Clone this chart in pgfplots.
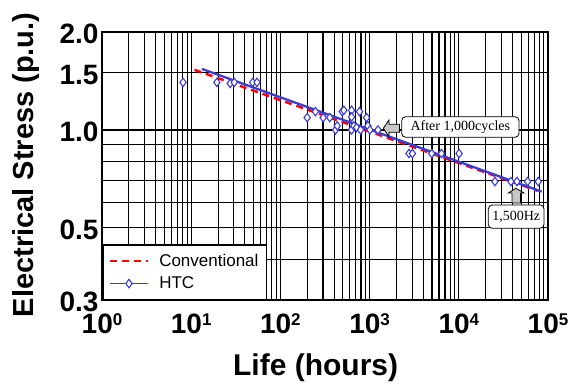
\documentclass[border=0pt]{standalone}
\usepackage{pgfplots}
\pgfplotsset{compat=1.18}
\usepackage{fontspec}
\setmainfont{Liberation Sans}
\newfontfamily\timesfont{Liberation Serif}
\definecolor{htc}{RGB}{60,60,210}
\definecolor{arrowgray}{RGB}{200,200,200}
\newcommand{\tl}[1]{10\raisebox{8pt}{\fontsize{17}{17}\selectfont\bfseries #1}}
\begin{document}
\begin{tikzpicture}
\path[use as bounding box] (0,0) rectangle (575pt,383pt);
\begin{axis}[
  at={(102pt,83pt)}, anchor=south west,
  scale only axis, width=446pt, height=268pt,
  xmode=log, ymode=log,
  xmin=1, xmax=1e5, ymin=0.3, ymax=2,
  xtick={1,10,100,1000,10000,100000},
  xticklabels={\tl{0},\tl{1},\tl{2},\tl{3},\tl{4},\tl{5}},
  minor xtick={2,3,4,5,6,7,8,9,20,30,40,50,60,70,80,90,200,300,400,500,600,700,800,900,2000,3000,4000,5000,6000,7000,8000,9000,20000,30000,40000,50000,60000,70000,80000,90000},
  ytick={0.3,0.5,1,1.5,2},
  yticklabels={0.3,0.5,1.0,1.5,2.0},
  minor ytick={0.4,0.6,0.7,0.8,0.9},
  grid=both,
  major grid style={black, line width=1.3pt},
  minor grid style={black, line width=1.1pt},
  major tick length=0pt, minor tick length=0pt,
  axis line style={black, line width=2pt},
  tick label style={font=\fontsize{28}{32}\selectfont\bfseries},
  xticklabel style={yshift=-10pt},
  yticklabel style={yshift=-2pt},
  xlabel={Life (hours)}, ylabel={Electrical Stress (p.u.)},
  xlabel style={font=\fontsize{30}{34}\selectfont\bfseries, at={(axis description cs:0.479,-0.28)}, anchor=base},
  ylabel style={font=\fontsize{29}{33}\selectfont\bfseries, at={(axis description cs:-0.1547,0.504)}, anchor=base},
  legend style={at={(0,0)}, anchor=south west, draw=black, line width=1.5pt, fill=white,
    font=\fontsize{17}{20}\selectfont, inner xsep=6pt, inner ysep=7pt, row sep=5pt,
    cells={anchor=west},
    /tikz/every odd column/.append style={column sep=8pt}},
  legend image code/.code={\draw[mark repeat=2,mark phase=2,#1] plot coordinates {(0pt,0pt) (19pt,0pt) (38pt,0pt)};},
]
% Conventional fit
\addplot[red, line width=2.5pt, dash pattern=on 7pt off 5pt] coordinates {(10.9,1.53) (76500,0.65)};
\addlegendentry{Conventional}
% HTC fit
\addplot[htc, line width=2.3pt, forget plot] coordinates {(13.2,1.54) (84900,0.646)};
% HTC data
\addplot[only marks, mark=diamond*, mark size=4.2pt, mark options={draw=htc, fill=white, line width=1.1pt}, forget plot] table {
x y
8.1 1.40
19.4 1.40
27.4 1.39
30.4 1.40
48.9 1.40
54.7 1.40
199.5 1.091
247 1.138
302 1.091
358 1.091
415 1.0
434 1.029
493 1.138
514 1.149
628 1.149
628 1.096
772 1.138
628 1.0
666 1.029
714 1.017
792 1.0
925 1.091
957 1.029
1008 1.0
1240 1.0
2765 0.846
3020 0.846
4970 0.846
6390 0.846
10080 0.846
25400 0.694
38400 0.694
44900 0.694
59100 0.694
77800 0.694
};
\addlegendimage{htc, line width=1.5pt, mark=diamond*, mark size=4.2pt, mark options={draw=htc, fill=white, line width=1.1pt}}
\addlegendentry{HTC}
\end{axis}
\begin{scope}[shift={(0,383pt)}, x=1pt, y=-1pt]
  \draw[fill=white, rounded corners=4pt, line width=0.8pt] (401.7,116.7) rectangle (519,137.3);
  \node[font=\timesfont\fontsize{14}{16}\selectfont, inner sep=0pt] at (460.3,127) {After 1,000cycles};
  \draw[fill=arrowgray, line width=0.8pt] (383.3,128.3) -- (389,120) -- (389,124.3) -- (399.5,124.3) -- (399.5,132.3) -- (389,132.3) -- (389,136.7) -- cycle;
  \draw[fill=white, rounded corners=4pt, line width=0.8pt] (488.3,205) rectangle (544,228.3);
  \node[font=\timesfont\fontsize{14}{16}\selectfont, inner sep=0pt] at (516.2,216.7) {1,500Hz};
  \draw[fill=arrowgray, line width=0.8pt] (516,188.3) -- (524,193) -- (520.5,193) -- (520.5,203) -- (512,203) -- (512,193) -- (508.3,193) -- cycle;
\end{scope}
\end{tikzpicture}
\end{document}
